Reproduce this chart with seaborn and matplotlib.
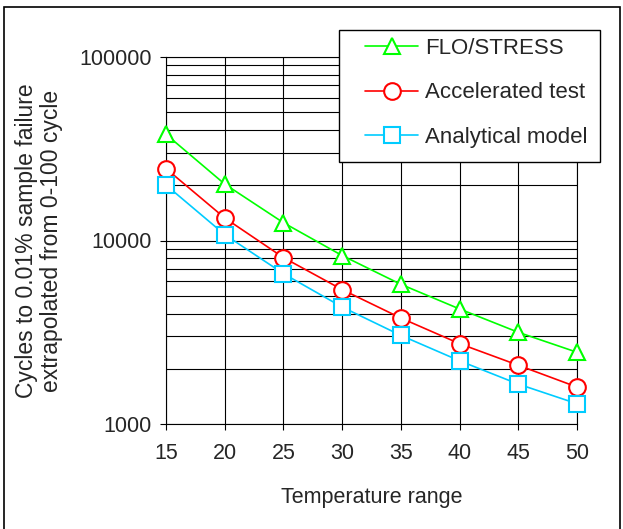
import matplotlib
matplotlib.use('Agg')
import matplotlib.pyplot as plt
import matplotlib.ticker as mticker
from matplotlib.patches import Rectangle
import pandas as pd
import seaborn as sns

temperature = [15, 20, 25, 30, 35, 40, 45, 50]
flo_stress = [37900, 20300, 12500, 8280, 5770, 4235, 3160, 2460]
accelerated = [24650, 13270, 8070, 5400, 3780, 2740, 2090, 1590]
analytical = [20050, 10770, 6600, 4340, 3040, 2210, 1650, 1290]

series_names = ['FLO/STRESS', 'Accelerated test', 'Analytical model']
series_colors = ['#00FF00', '#FF0000', '#00CCFF']
series_markers = ['^', 'o', 's']

df = pd.DataFrame({
    'temp': temperature * 3,
    'cycles': flo_stress + accelerated + analytical,
    'series': [n for n in series_names for _ in temperature],
})

sns.set_style('white')
plt.rcParams['font.family'] = ['Liberation Sans', 'DejaVu Sans']

W, H = 623, 529
fig = plt.figure(figsize=(W / 100, H / 100), dpi=100)
ax = fig.add_axes([166 / W, 1 - 424 / H, (577 - 166) / W, (424 - 57) / H])

for name, color, marker in zip(series_names, series_colors, series_markers):
    sns.lineplot(data=df[df['series'] == name], x='temp', y='cycles', ax=ax,
                 color=color, marker=marker, markersize=12, markerfacecolor='white',
                 markeredgecolor=color, markeredgewidth=1.5, linewidth=1.2,
                 label=name, clip_on=False, zorder=3)

ax.set_yscale('log')
ax.set_ylim(1000, 100000)
ax.set_xlim(15, 50)
ax.set_xticks(temperature)
ax.yaxis.set_major_locator(mticker.FixedLocator([1000, 10000, 100000]))
ax.yaxis.set_major_formatter(mticker.FuncFormatter(lambda v, p: f'{int(v)}'))
ax.yaxis.set_minor_locator(mticker.LogLocator(base=10, subs=range(2, 10)))
ax.yaxis.set_minor_formatter(mticker.NullFormatter())

ax.grid(True, which='major', axis='both', color='black', linewidth=0.8)
ax.grid(True, which='minor', axis='y', color='black', linewidth=0.8)
ax.tick_params(axis='both', which='major', direction='out', length=4, width=0.8,
               color='black', labelsize=15.5, pad=6, left=True, bottom=True)
ax.tick_params(axis='y', which='minor', length=0)
ax.tick_params(axis='x', pad=10)
for s in ax.spines.values():
    s.set_color('black')
    s.set_linewidth(0.8)

ax.set_xlabel('Temperature range', fontsize=15.5, labelpad=16)
ax.set_ylabel('Cycles to 0.01% sample failure\nextrapolated from 0-100 cycle', fontsize=16.5,
              linespacing=1.12)
ax.yaxis.set_label_coords((63 - 166) / 411, 0.5)

ax.get_legend().remove()
handles, labels = ax.get_legend_handles_labels()

# legend box: white fill over the grid, black edge
fig.patches.append(Rectangle((339 / W, 1 - 162 / H), (600 - 339) / W, (162 - 30) / H,
                             transform=fig.transFigure, facecolor='white', edgecolor='black',
                             linewidth=1.0, zorder=2))
leg = fig.legend(handles, labels, loc='upper left', bbox_to_anchor=(365 / W, 1 - 38 / H),
                 borderaxespad=0, borderpad=0, fontsize=16, frameon=False,
                 labelspacing=1.05, handlelength=2.4, handletextpad=0.3)
leg.set_zorder(5)

fig.patches.append(Rectangle((4 / W, -0.01), 616 / W, 1 - 7 / H + 0.01,
                             transform=fig.transFigure, fill=False, edgecolor='black',
                             linewidth=1.2, zorder=6))

fig.savefig('out.png', dpi=100)
